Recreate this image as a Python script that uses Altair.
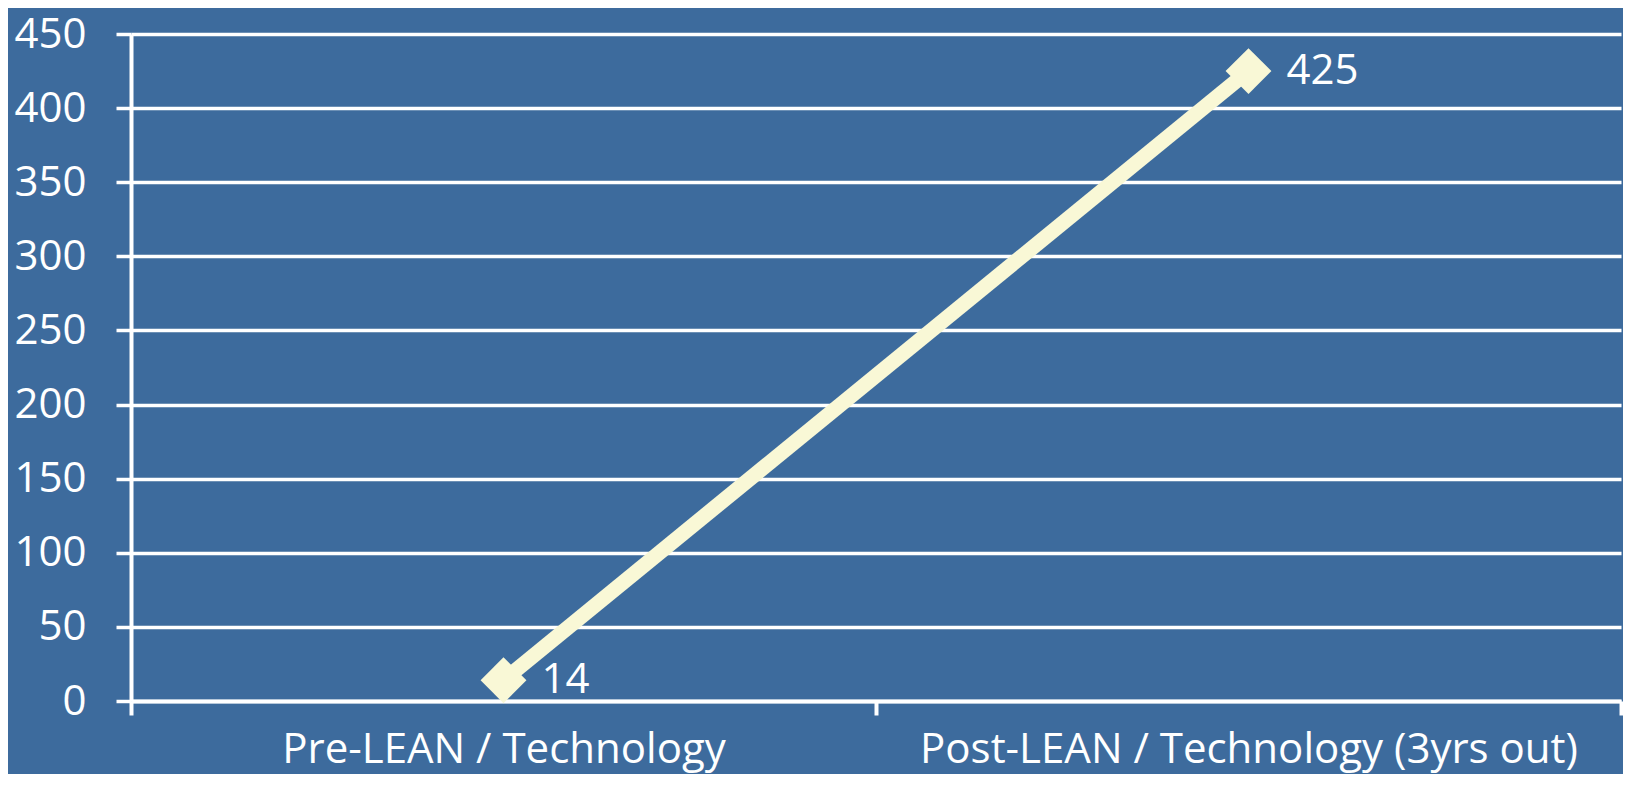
import altair as alt
import pandas as pd

categories = ["Pre-LEAN / Technology", "Post-LEAN / Technology (3yrs out)"]
values = [14, 425]
y_ticks = [0, 50, 100, 150, 200, 250, 300, 350, 400, 450]

df = pd.DataFrame({"stage": categories, "value": values})

BG = "#3D6B9D"
LINE = "#F9F8D6"
FONT = "Open Sans"

x = alt.X(
    "stage:N",
    sort=categories,
    title=None,
    scale=alt.Scale(paddingInner=0, paddingOuter=0),
    axis=alt.Axis(
        labelAngle=0,
        tickBand="extent",
        grid=False,
        domainColor="white",
        domainWidth=4,
        tickColor="white",
        tickWidth=4,
        tickSize=14,
        labelColor="white",
        labelFont=FONT,
        labelFontSize=42,
        labelPadding=47,
        labelLimit=0,
        labelBaseline="alphabetic",
    ),
)
y = alt.Y(
    "value:Q",
    title=None,
    scale=alt.Scale(domain=[0, 450], nice=False),
    axis=alt.Axis(
        values=y_ticks,
        grid=True,
        gridColor="white",
        gridWidth=3.5,
        gridOpacity=1,
        domainColor="white",
        domainWidth=4,
        tickColor="white",
        tickWidth=3.5,
        tickSize=15,
        labelColor="white",
        labelFont=FONT,
        labelFontSize=42,
        labelPadding=30,
    ),
)

base = alt.Chart(df).encode(x=x, y=y)
line = base.mark_line(color=LINE, strokeWidth=15)
points = base.mark_point(shape="diamond", filled=True, size=2100, color=LINE, opacity=1)
labels = base.mark_text(
    align="left", baseline="middle", dx=38, fontSize=42, color="white", font=FONT
).encode(text="value:Q")

chart = (
    alt.layer(line, points, labels)
    .properties(
        width=1490,
        height=667,
        padding={"left": 123, "top": 26, "right": 2, "bottom": 73},
        autosize=alt.AutoSizeParams(type="none"),
        background=BG,
    )
    .configure_view(stroke=None)
)

chart.save("out.html", embed_options={"renderer": "svg", "actions": False})
